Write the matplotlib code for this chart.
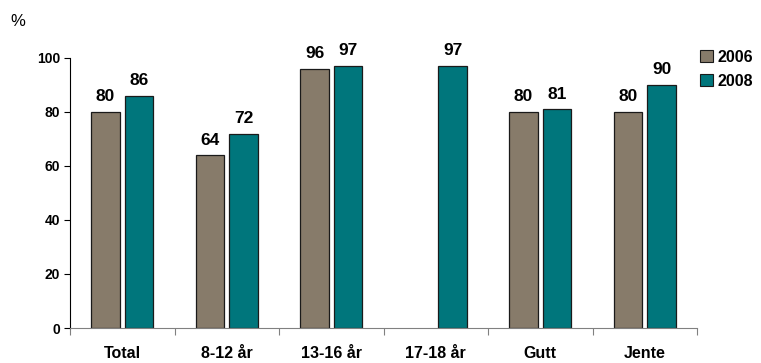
import numpy as np
import matplotlib.pyplot as plt
from matplotlib.patches import Patch

categories = ['Total', '8-12 år', '13-16 år', '17-18 år', 'Gutt', 'Jente']
values_2006 = [80, 64, 96, np.nan, 80, 80]
values_2008 = [86, 72, 97, 97, 81, 90]
series_names = ['2006', '2008']
colors = ['#877B6A', '#00767C']

plt.rcParams['font.family'] = ['Liberation Sans', 'DejaVu Sans']

fig = plt.figure(figsize=(7.61, 3.63), dpi=100)
ax = fig.add_axes([0.092, 0.0964, 0.824, 0.744])

x = np.arange(len(categories))
w = 0.27
off = 0.16
for vals, dx, col in [(values_2006, -off, colors[0]), (values_2008, off, colors[1])]:
    for xi, v in zip(x, vals):
        if np.isnan(v):
            continue
        ax.bar(xi + dx, v, width=w, color=col, edgecolor='#1a1a1a', linewidth=0.9, zorder=2)
        ax.text(xi + dx, v + 2.8, f'{v:.0f}', ha='center', va='bottom',
                fontsize=12.5, fontweight='bold')

ax.set_xlim(-0.5, len(categories) - 0.5)
ax.set_ylim(0, 100)
ax.set_yticks([0, 20, 40, 60, 80, 100])
ax.tick_params(axis='y', labelsize=10, length=4, width=0.8, pad=3)
for lbl in ax.get_yticklabels():
    lbl.set_fontweight('bold')

ax.set_xticks(np.arange(-0.5, len(categories), 1.0))
ax.set_xticklabels([])
ax.tick_params(axis='x', length=5, width=0.8, color='#808080')
for xi, c in zip(x, categories):
    ax.text(xi, -0.065, c, transform=ax.get_xaxis_transform(), ha='center', va='top',
            fontsize=11.5, fontweight='bold')

ax.spines['top'].set_visible(False)
ax.spines['right'].set_visible(False)
ax.spines['bottom'].set_color('#808080')
ax.spines['left'].set_color('black')
ax.spines['left'].set_linewidth(0.8)

fig.text(0.013, 0.94, '%', fontsize=12, ha='left', va='center')

handles = [Patch(facecolor=c, edgecolor='#1a1a1a', linewidth=0.8) for c in colors]
leg = fig.legend(handles, series_names, loc='upper left', bbox_to_anchor=(0.909, 0.885),
                 frameon=False, prop={'size': 11.5, 'weight': 'bold'},
                 handlelength=0.8, handleheight=0.8, handletextpad=0.3,
                 labelspacing=0.55, borderpad=0)

fig.savefig('out.png', dpi=100)
